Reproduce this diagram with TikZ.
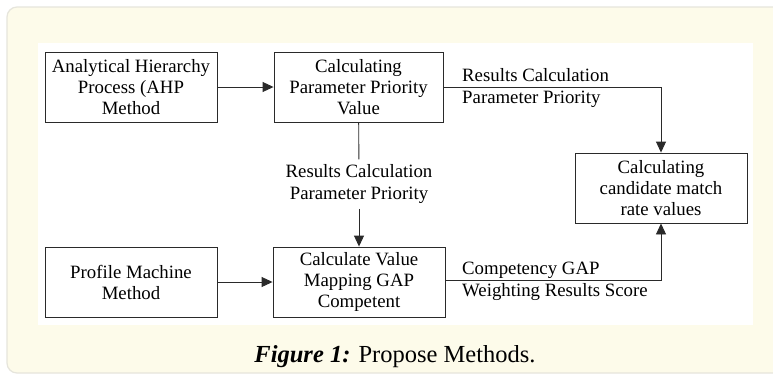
\documentclass[tikz,border=0pt]{standalone}
\usepackage{xcolor}
\usepackage{fontspec}
\setmainfont{Liberation Serif}
\usepackage{tikz}
\usetikzlibrary{arrows.meta}

\definecolor{panelfill}{HTML}{FDFBEA}
\definecolor{paneledge}{HTML}{E6E5DC}
\definecolor{boxline}{HTML}{2A2A2A}

\tikzset{
  procbox/.style={draw=boxline, line width=0.9pt, fill=white, minimum width=172pt,
    minimum height=70pt, align=center, font=\fontsize{18.8}{21}\selectfont, inner sep=1pt},
  flowlabel/.style={align=left, font=\fontsize{18.8}{22}\selectfont, inner sep=2pt},
  flow/.style={draw=boxline, line width=0.9pt},
  flowarrow/.style={flow, -{Triangle[length=11pt,width=10pt]}}
}

\begin{document}
\begin{tikzpicture}[x=1pt,y=-1pt]
  \useasboundingbox (0,0) rectangle (773,383);
  % panel and white drawing area
  \fill[white] (0,0) rectangle (773,383);
  \draw[paneledge, fill=panelfill, line width=1.2pt, rounded corners=10pt] (7,7) rectangle (800,373);
  \fill[white] (38,43) rectangle (753,325);

  % boxes
  \node[procbox] (ahp) at (131,87) {Analytical Hierarchy\\Process (AHP\\Method};
  \node[procbox, minimum width=169pt] (cpp) at (358.5,87) {Calculating\\Parameter Priority\\Value};
  \node[procbox] (pmm) at (131,282) {Profile Machine\\Method};
  \node[procbox] (cvm) at (359,282) {Calculate Value\\Mapping GAP\\Competent};
  \node[procbox] (cmr) at (661,188) {Calculating\\candidate match\\rate values};

  % labels on the connectors
  \node[flowlabel, align=center, inner sep=5pt] (midres) at (359,184) {Results Calculation\\Parameter Priority};
  \node[flowlabel, anchor=west] (topres) at (460,88) {Results Calculation\\Parameter Priority};
  \node[flowlabel, anchor=west] (botres) at (460,281) {Competency GAP\\Weighting Results Score};

  % connectors
  \draw[flowarrow] (ahp) -- (cpp);
  \draw[flowarrow] (pmm) -- (cvm);
  \draw[flow] (cpp) -- (midres);
  \draw[flowarrow] (midres) -- (cvm);
  \draw[flowarrow] (cpp.east) -| (cmr.north);
  \draw[flowarrow] ([yshift=2pt]cvm.east) -| (cmr.south);

  % caption
  \node[font=\fontsize{24.5}{28}\selectfont] (caption) at (395,357)
    {{\bfseries\itshape Figure 1:} Propose Methods.};
\end{tikzpicture}
\end{document}
